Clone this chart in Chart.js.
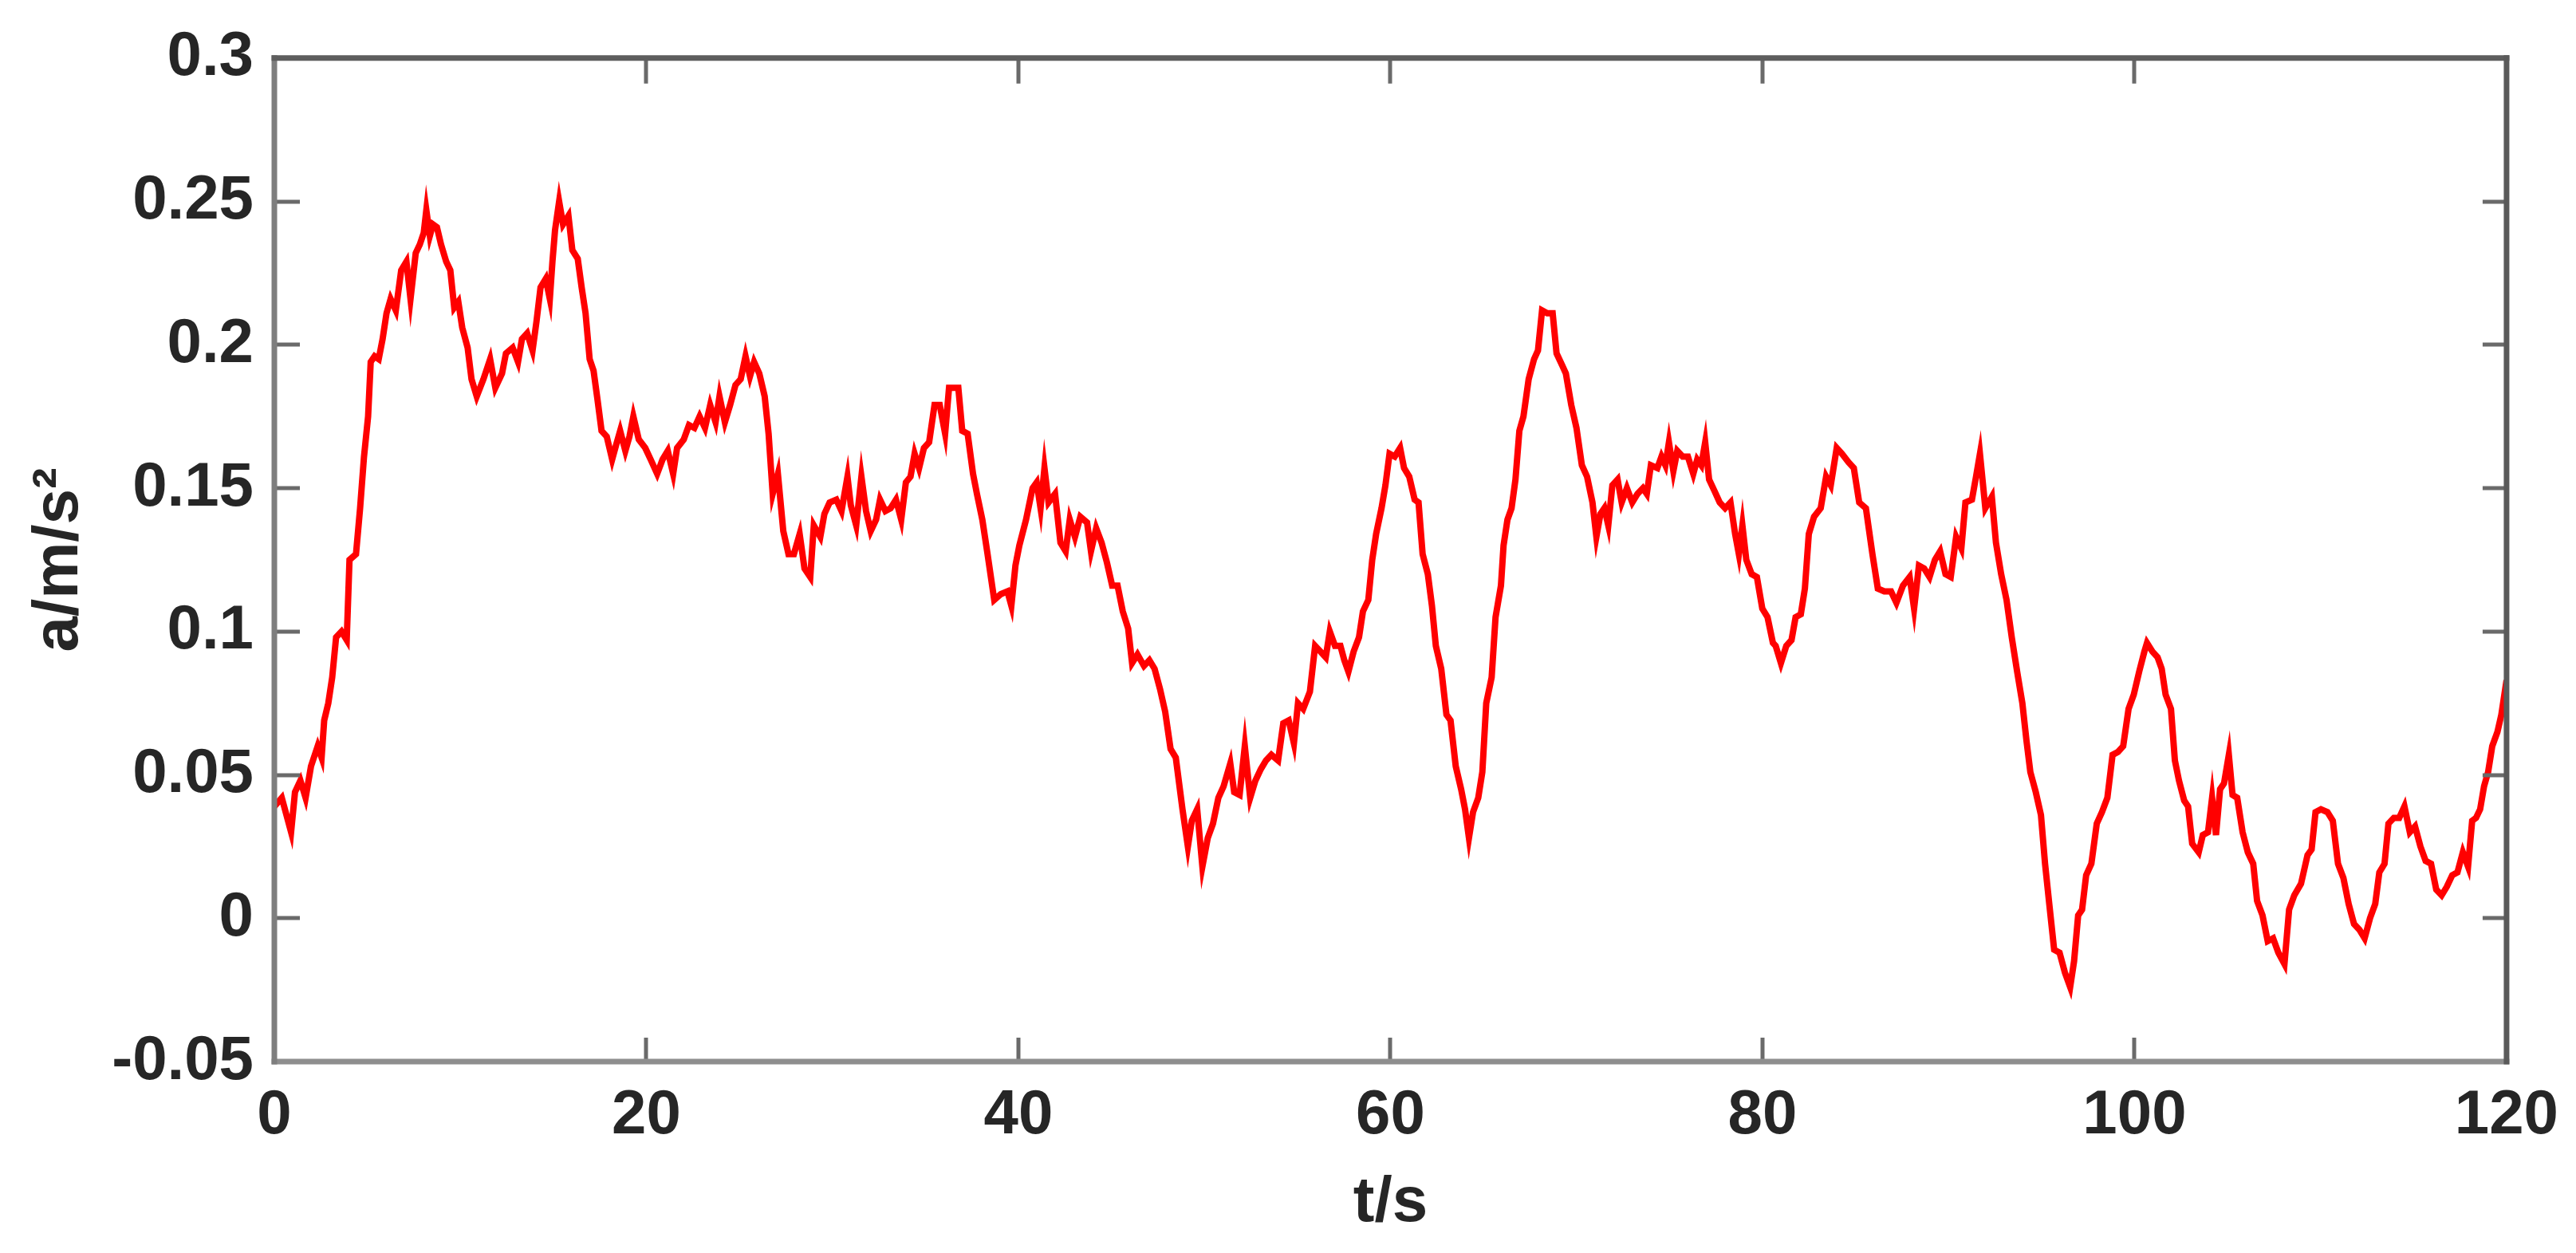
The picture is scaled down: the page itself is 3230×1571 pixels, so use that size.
<!DOCTYPE html>
<html><head><meta charset="utf-8">
<script src="https://cdn.jsdelivr.net/npm/chart.js@4/dist/chart.umd.min.js"></script>
<style>html,body{margin:0;padding:0;background:#fff;}canvas{display:block;}</style>
</head><body>
<canvas id="c" width="3230" height="1571" style="width:3230px;height:1571px"></canvas>
<script>
const time = [
0.00,0.40,0.90,1.11,1.40,1.68,1.97,2.33,2.54,2.68,2.90,3.11,3.32,3.61,3.89,4.04,4.39,4.61,4.82,5.04,5.18,5.39,5.61,5.82,6.03,6.25,6.53,6.82,7.10,7.32,7.60,7.82,8.03,8.17,8.36,8.53,8.74,8.96,9.24,9.46,9.67,9.89,10.10,10.39,10.60,10.88,11.24,11.60,11.88,12.24,12.45,12.81,13.10,13.31,13.59,13.88,14.09,14.31,14.59,14.81,14.95,15.09,15.31,15.52,15.81,16.02,16.31,16.52,16.73,16.95,17.16,17.37,17.59,17.87,18.16,18.37,18.59,18.87,19.09,19.30,19.59,19.94,20.23,
20.58,20.87,21.15,21.44,21.65,22.01,22.29,22.58,22.86,23.15,23.43,23.72,23.93,24.22,24.50,24.79,25.07,25.33,25.57,25.79,26.07,26.36,26.57,26.79,27.07,27.36,27.64,27.93,28.24,28.50,28.81,29.00,29.35,29.57,29.85,30.21,30.49,30.81,30.99,31.28,31.56,31.81,32.06,32.35,32.56,32.85,33.13,33.42,33.70,33.95,34.20,34.42,34.66,34.92,35.20,35.49,35.77,36.06,36.27,36.56,36.77,36.98,37.27,37.56,37.77,38.06,38.34,38.70,39.05,39.41,39.62,39.84,40.05,40.41,
40.76,40.98,41.19,41.40,41.62,41.97,42.26,42.54,42.76,43.04,43.33,43.69,43.90,44.18,44.47,44.76,45.04,45.33,45.61,45.90,46.11,46.40,46.75,47.04,47.32,47.61,47.89,48.18,48.46,48.82,49.11,49.32,49.61,49.89,50.18,50.46,50.75,51.03,51.39,51.60,51.89,52.17,52.46,52.74,53.03,53.31,53.60,53.96,54.24,54.53,54.81,55.03,55.31,55.67,55.95,56.24,56.52,56.74,57.02,57.31,57.52,57.74,58.02,58.31,58.52,58.81,59.02,59.23,59.52,59.73,59.95,60.23,60.52,
60.73,61.01,61.30,61.51,61.73,62.01,62.23,62.44,62.73,63.01,63.23,63.51,63.80,64.01,64.22,64.44,64.72,64.94,65.15,65.44,65.65,65.94,66.08,66.29,66.51,66.72,66.93,67.15,67.43,67.72,67.93,68.15,68.43,68.72,68.93,69.22,69.43,69.72,70.00,70.29,70.57,70.86,71.07,71.29,71.50,71.71,71.93,72.21,72.43,72.71,73.00,73.28,73.57,73.78,74.00,74.35,74.57,74.78,74.97,75.21,75.42,75.71,75.99,76.28,76.49,76.71,76.92,77.13,77.42,77.70,77.99,78.28,78.53,78.73,78.92,79.13,79.42,79.70,79.99,80.27,80.56,
80.71,80.99,81.28,81.56,81.78,82.06,82.28,82.49,82.77,83.13,83.42,83.67,83.99,84.27,84.63,84.91,85.20,85.56,85.91,86.20,86.55,86.91,87.20,87.55,87.91,88.15,88.41,88.69,88.98,89.27,89.55,89.84,90.12,90.41,90.69,90.91,91.26,91.48,91.69,91.98,92.33,92.55,92.83,93.12,93.40,93.69,93.97,94.19,94.40,94.69,94.97,95.19,95.40,95.68,95.97,96.26,96.54,96.75,96.97,97.18,97.40,97.68,97.97,98.25,98.54,98.82,99.11,99.39,99.68,99.96,100.25,100.53,
100.67,100.96,101.24,101.46,101.67,101.96,102.17,102.39,102.67,102.88,103.10,103.45,103.67,103.95,104.17,104.38,104.60,104.81,105.07,105.27,105.52,105.81,106.09,106.38,106.59,106.88,107.16,107.45,107.73,108.06,108.31,108.59,108.95,109.30,109.52,109.73,110.02,110.37,110.66,110.94,111.23,111.51,111.80,112.09,112.37,112.66,112.94,113.16,113.44,113.65,113.94,114.23,114.51,114.80,115.08,115.37,115.65,115.94,116.22,116.51,116.79,117.08,117.36,117.65,117.93,118.15,118.36,118.58,118.79,119.01,119.23,119.51,119.72,119.93,120.00
];
const accel = [
0.039,0.042,0.030,0.044,0.048,0.042,0.053,0.060,0.056,0.069,0.075,0.084,0.098,0.100,0.097,0.125,0.127,0.143,0.161,0.175,0.194,0.196,0.195,0.202,0.211,0.216,0.212,0.226,0.229,0.216,0.232,0.235,0.239,0.247,0.238,0.242,0.241,0.235,0.229,0.226,0.213,0.215,0.206,0.199,0.188,0.182,0.188,0.195,0.185,0.190,0.197,0.199,0.194,0.202,0.204,0.198,0.208,0.220,0.223,0.216,0.229,0.240,0.250,0.242,0.245,0.233,0.230,0.220,0.211,0.195,0.191,0.181,0.170,0.168,0.160,0.165,0.170,0.163,0.168,0.175,0.167,0.164,0.160,
0.155,0.160,0.163,0.155,0.164,0.167,0.172,0.171,0.175,0.171,0.179,0.173,0.182,0.173,0.179,0.186,0.188,0.196,0.189,0.194,0.190,0.182,0.169,0.148,0.155,0.135,0.127,0.127,0.134,0.122,0.119,0.137,0.133,0.141,0.145,0.146,0.142,0.154,0.144,0.137,0.154,0.142,0.135,0.139,0.146,0.142,0.143,0.146,0.139,0.152,0.154,0.162,0.157,0.164,0.166,0.179,0.179,0.169,0.185,0.185,0.185,0.170,0.169,0.155,0.148,0.139,0.127,0.111,0.113,0.114,0.109,0.123,0.130,0.139,
0.150,0.152,0.143,0.157,0.145,0.148,0.131,0.128,0.139,0.133,0.140,0.138,0.128,0.136,0.131,0.124,0.116,0.116,0.107,0.101,0.089,0.092,0.088,0.090,0.087,0.080,0.072,0.059,0.056,0.038,0.025,0.034,0.038,0.018,0.028,0.033,0.042,0.046,0.054,0.044,0.043,0.060,0.042,0.048,0.052,0.055,0.057,0.055,0.068,0.069,0.061,0.075,0.073,0.079,0.095,0.093,0.091,0.100,0.095,0.095,0.090,0.086,0.093,0.098,0.107,0.111,0.125,0.134,0.143,0.151,0.162,0.161,0.164,
0.157,0.154,0.146,0.145,0.127,0.120,0.109,0.095,0.087,0.071,0.069,0.053,0.045,0.038,0.028,0.037,0.042,0.051,0.075,0.084,0.105,0.116,0.130,0.139,0.143,0.153,0.170,0.175,0.188,0.195,0.198,0.212,0.211,0.211,0.197,0.193,0.190,0.179,0.171,0.158,0.154,0.145,0.133,0.141,0.143,0.137,0.151,0.153,0.145,0.150,0.145,0.148,0.150,0.148,0.158,0.157,0.161,0.158,0.166,0.156,0.163,0.161,0.161,0.155,0.160,0.158,0.166,0.153,0.149,0.145,0.143,0.145,0.134,0.127,0.137,0.125,0.120,0.119,0.108,0.105,0.096,
0.095,0.089,0.095,0.097,0.105,0.106,0.115,0.134,0.140,0.143,0.154,0.151,0.164,0.162,0.159,0.157,0.145,0.143,0.127,0.115,0.114,0.114,0.110,0.116,0.119,0.108,0.123,0.122,0.119,0.125,0.128,0.120,0.119,0.133,0.129,0.145,0.146,0.154,0.162,0.143,0.147,0.131,0.120,0.111,0.098,0.086,0.075,0.062,0.051,0.044,0.036,0.019,0.006,-0.011,-0.012,-0.019,-0.024,-0.015,0.001,0.003,0.015,0.019,0.033,0.037,0.042,0.057,0.058,0.060,0.073,0.078,0.086,0.093,
0.096,0.093,0.091,0.087,0.078,0.073,0.055,0.048,0.041,0.039,0.026,0.023,0.029,0.030,0.042,0.029,0.045,0.047,0.057,0.043,0.042,0.030,0.023,0.019,0.006,0.001,-0.008,-0.007,-0.012,-0.016,0.003,0.008,0.012,0.022,0.024,0.037,0.038,0.037,0.034,0.019,0.014,0.005,-0.002,-0.004,-0.007,0.000,0.005,0.016,0.019,0.033,0.035,0.035,0.039,0.030,0.032,0.025,0.020,0.019,0.010,0.008,0.011,0.015,0.016,0.023,0.018,0.034,0.035,0.038,0.046,0.051,0.060,0.065,0.071,0.080,0.083
];
const xTickValues = [0, 20, 40, 60, 80, 100, 120];
const xTickLabels = ['0', '20', '40', '60', '80', '100', '120'];
const yTickValues = [-0.05, 0, 0.05, 0.1, 0.15, 0.2, 0.25, 0.3];
const yTickLabels = ['-0.05', '0', '0.05', '0.1', '0.15', '0.2', '0.25', '0.3'];
const xTitle = 't/s';
const yTitle = 'a/m/s\u00B2';

const points = time.map((t, i) => ({ x: t, y: accel[i] }));
const FONT = 'Liberation Sans, Arial, sans-serif';

const boxPlugin = {
  id: 'boxTicks',
  afterDatasetsDraw(chart) {
    const { ctx, chartArea: a, scales: { x, y } } = chart;
    ctx.save();
    ctx.lineCap = 'butt';
    ctx.strokeStyle = '#6a6a6a';
    ctx.lineWidth = 5;
    x.ticks.forEach(t => {
      const px = Math.round(x.getPixelForValue(t.value));
      ctx.beginPath();
      ctx.moveTo(px, a.bottom); ctx.lineTo(px, a.bottom - 30);
      ctx.moveTo(px, a.top); ctx.lineTo(px, a.top + 32);
      ctx.stroke();
    });
    y.ticks.forEach(t => {
      const py = Math.round(y.getPixelForValue(t.value));
      ctx.beginPath();
      ctx.moveTo(a.left, py); ctx.lineTo(a.left + 32, py);
      ctx.moveTo(a.right, py); ctx.lineTo(a.right - 30, py);
      ctx.stroke();
    });
    ctx.lineWidth = 7;
    ctx.lineCap = 'square';
    const seg = (c, x1, y1, x2, y2) => { ctx.strokeStyle = c; ctx.beginPath(); ctx.moveTo(x1, y1); ctx.lineTo(x2, y2); ctx.stroke(); };
    seg('#8e8e8e', a.left, a.bottom, a.right, a.bottom);
    seg('#7e7e7e', a.left, a.top, a.left, a.bottom);
    seg('#5e5e5e', a.left, a.top, a.right, a.top);
    seg('#5a5a5a', a.right, a.top, a.right, a.bottom);
    ctx.restore();
  }
};

new Chart(document.getElementById('c'), {
  type: 'line',
  data: {
    datasets: [{
      data: points,
      borderColor: '#ff0000',
      borderWidth: 8,
      pointRadius: 0,
      tension: 0,
      fill: false
    }]
  },
  options: {
    responsive: false,
    animation: false,
    devicePixelRatio: 1,
    layout: { padding: { top: 63, right: 82, left: 0, bottom: 0 } },
    plugins: { legend: { display: false }, tooltip: { enabled: false } },
    scales: {
      x: {
        type: 'linear', min: 0, max: 120,
        afterBuildTicks: s => { s.ticks = xTickValues.map(v => ({ value: v })); },
        afterFit: s => { s.height = 240; },
        grid: { display: false, drawTicks: false },
        border: { display: false },
        ticks: {
          callback: (v, i) => xTickLabels[i],
          font: { family: FONT, size: 78, weight: 'bold' },
          color: '#262626', padding: 22, autoSkip: false, maxRotation: 0
        },
        title: {
          display: true, text: xTitle, color: '#262626',
          font: { family: FONT, size: 80, weight: 'bold' },
          padding: { top: 0, bottom: 14 }
        }
      },
      y: {
        type: 'linear', min: -0.05, max: 0.3,
        afterBuildTicks: s => { s.ticks = yTickValues.map(v => ({ value: v })); },
        afterFit: s => { s.width = 344; },
        grid: { display: false, drawTicks: false },
        border: { display: false },
        ticks: {
          callback: (v, i) => yTickLabels[i],
          font: { family: FONT, size: 78, weight: 'bold' },
          color: '#262626', padding: 26, autoSkip: false
        },
        title: {
          display: true, text: yTitle, color: '#262626',
          font: { family: FONT, size: 80, weight: 'bold' },
          padding: { top: 27, bottom: 0 }
        }
      }
    }
  },
  plugins: [boxPlugin]
});
</script>
</body></html>
